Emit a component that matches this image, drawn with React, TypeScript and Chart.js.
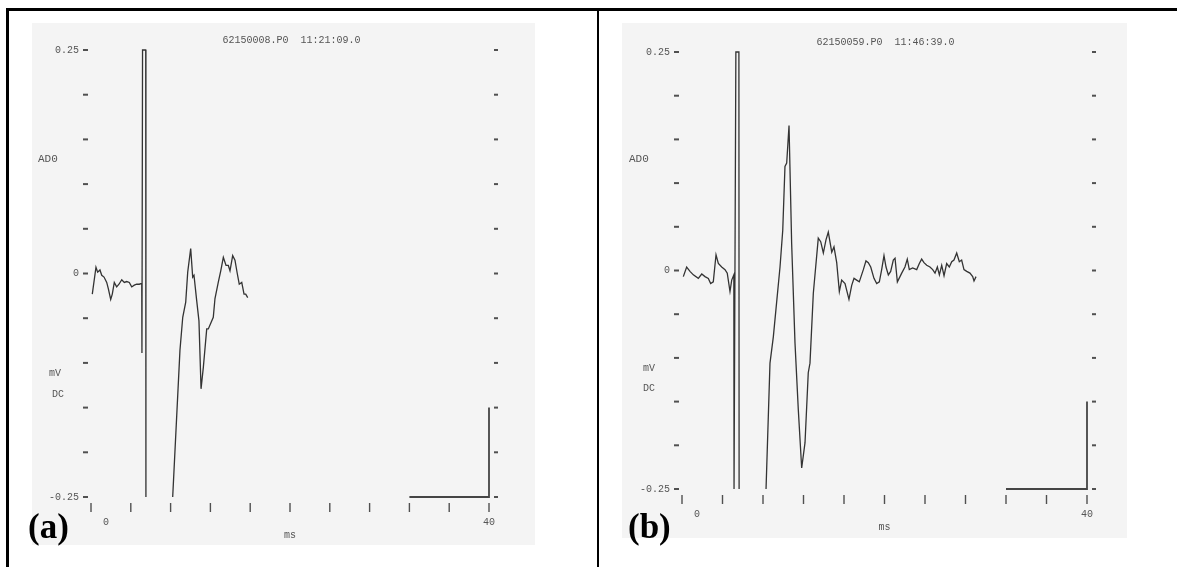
import React, { useEffect, useRef } from "react";
import { Chart, registerables } from "chart.js";

Chart.register(...registerables);

// ---------- axis data ----------
const xTickValues = [0, 4, 8, 12, 16, 20, 24, 28, 32, 36, 40];
const yTickValues = [-0.25, -0.2, -0.15, -0.1, -0.05, 0, 0.05, 0.1, 0.15, 0.2, 0.25];
const xLabelMap: Record<number, string> = { 0: "     0", 40: "40" };
const yLabelMap: Record<string, string> = { "0.25": "0.25", "0": "0", "-0.25": "-0.25" };

const headerA = "62150008.P0  11:21:09.0";
const headerB = "62150059.P0  11:46:39.0";

// ---------- panel (a) trace ----------
const traceA_ms = [
  0.13, 0.5, 0.67, 0.9, 1.08, 1.31, 1.58, 1.74, 1.98, 2.14, 2.34, 2.58, 2.81, 3.09, 3.35, 3.59, 3.85, 4.09,
  4.35, 4.59, 4.85, 5.1,
  5.12, 5.18, 5.5, 5.52,
  6.8,
  8.21, 8.94, 9.22, 9.52, 9.72, 10.02, 10.22, 10.35, 10.62, 10.85, 11.06, 11.29, 11.63, 11.79, 12.29, 12.46,
  12.79, 13.04, 13.3, 13.57, 13.8, 13.97, 14.24, 14.47, 14.7, 14.9, 15.15, 15.38, 15.55, 15.75,
];
const traceA_mV: (number | null)[] = [
  -0.023, 0.007, 0.0015, 0.004, -0.002, -0.004, -0.01, -0.017, -0.029, -0.023, -0.01, -0.015, -0.012, -0.007,
  -0.01, -0.009, -0.01, -0.015, -0.013, -0.012, -0.012, -0.011,
  -0.089, 0.25, 0.25, -0.25,
  null,
  -0.25, -0.086, -0.049, -0.032, 0.0015, 0.028, -0.004, -0.002, -0.03, -0.053, -0.129, -0.105, -0.062, -0.062,
  -0.049, -0.028, -0.01, 0.003, 0.018, 0.009, 0.009, 0.003, 0.02, 0.015, 0.0, -0.012, -0.01, -0.023, -0.023,
  -0.027,
];

// ---------- panel (b) trace ----------
const traceB_ms = [
  0.13, 0.46, 0.79, 1.12, 1.61, 1.95, 2.27, 2.6, 2.83, 3.09, 3.36, 3.59, 3.92, 4.25, 4.47, 4.74, 4.91, 5.12,
  5.14, 5.32, 5.62, 5.64,
  7.0,
  8.3, 8.69, 9.02, 9.68, 9.95, 10.17, 10.34, 10.57, 10.83, 11.16, 11.49, 11.82, 12.15, 12.47, 12.64, 12.97,
  13.46, 13.7, 13.96, 14.22, 14.45, 14.79, 15.01, 15.28,
  15.54, 15.77, 16.1, 16.49, 16.76, 16.99, 17.25, 17.51, 17.91, 18.17, 18.4, 18.64, 18.96, 19.23, 19.49,
  19.72, 19.95, 20.15, 20.38, 20.61, 20.87, 21.04, 21.27, 21.53, 21.7, 22.02, 22.25, 22.45, 22.78, 23.18,
  23.44, 23.67, 23.9, 24.17, 24.49, 24.76, 24.99, 25.22, 25.42, 25.65, 25.88, 26.14, 26.4, 26.64, 26.86,
  27.13, 27.39, 27.62, 27.85, 28.12, 28.44, 28.71, 28.84, 29.04,
];
const traceB_mV: (number | null)[] = [
  -0.007, 0.004, -0.001, -0.005, -0.009, -0.004, -0.007, -0.009, -0.015, -0.013, 0.018, 0.008, 0.004, 0.001,
  -0.003, -0.024, -0.011, -0.005,
  -0.25, 0.25, 0.25, -0.25,
  null,
  -0.25, -0.106, -0.076, 0.004, 0.046, 0.119, 0.123, 0.166, 0.031, -0.083, -0.16, -0.226, -0.197, -0.117,
  -0.106, -0.026, 0.037, 0.033, 0.02, 0.035, 0.044, 0.021, 0.027, 0.009,
  -0.024, -0.011, -0.015, -0.033, -0.017, -0.009, -0.011, -0.013, 0.001, 0.011, 0.009, 0.004, -0.009, -0.015,
  -0.013, 0.001, 0.017, 0.004, -0.005, -0.001, 0.012, 0.014, -0.013, -0.007, -0.003, 0.004, 0.013, 0.001,
  0.003, 0.001, 0.008, 0.013, 0.009, 0.006, 0.004, 0.001, -0.003, 0.004, -0.005, 0.006, -0.006, 0.008, 0.004,
  0.01, 0.012, 0.02, 0.01, 0.012, 0.001, -0.001, -0.003, -0.007, -0.012, -0.007,
];

// ---------- calibration bar (8 ms x 0.1 mV) ----------
const scaleBar_ms = [32, 40, 40];
const scaleBar_mV = [-0.25, -0.25, -0.15];

// ---------- side labels ----------
const sideLabelText = ["AD0", "mV", "DC"];
const sideLabelValue = [0.128, -0.112, -0.135];

const MONO = "'Liberation Mono', 'DejaVu Sans Mono', monospace";
const TEXT_COLOR = "#555";
const TRACE_COLOR = "#333";

const toPoints = (xs: number[], ys: (number | null)[]) => xs.map((x, i) => ({ x, y: ys[i] }));

const scopeTicks = {
  id: "scopeTicks",
  afterDraw(chart: any, _args: any, opts: any) {
    const { ctx, chartArea: a, scales } = chart;
    ctx.save();
    ctx.strokeStyle = "#505050";
    ctx.lineWidth = 2;
    for (const t of scales.y.ticks) {
      const py = scales.y.getPixelForValue(t.value);
      ctx.beginPath();
      ctx.moveTo(a.left - opts.leftOut, py);
      ctx.lineTo(a.left - opts.leftIn, py);
      ctx.stroke();
    }
    for (const t of scales.y2.ticks) {
      const py = scales.y2.getPixelForValue(t.value);
      ctx.beginPath();
      ctx.moveTo(a.right + opts.rightIn, py);
      ctx.lineTo(a.right + opts.rightOut, py);
      ctx.stroke();
    }
    ctx.lineWidth = 1.4;
    for (const t of scales.x.ticks) {
      const px = scales.x.getPixelForValue(t.value);
      ctx.beginPath();
      ctx.moveTo(px, a.bottom + opts.bottomIn);
      ctx.lineTo(px, a.bottom + opts.bottomOut);
      ctx.stroke();
    }
    ctx.restore();
  },
};

const sideLabels = {
  id: "sideLabels",
  afterDraw(chart: any, _args: any, opts: any) {
    const { ctx, chartArea: a, scales } = chart;
    ctx.save();
    ctx.fillStyle = TEXT_COLOR;
    ctx.textAlign = "left";
    ctx.textBaseline = "middle";
    sideLabelText.forEach((txt, i) => {
      ctx.font = `${i === 0 ? 11 : 10}px ${MONO}`;
      ctx.fillText(txt, a.left + opts.dx[i], scales.y.getPixelForValue(sideLabelValue[i]));
    });
    ctx.restore();
  },
};

type PanelSpec = {
  header: string;
  trace: { x: number; y: number | null }[];
  padTop: number;
  padRight: number;
  yWidth: number;
  y2Width: number;
  xHeight: number;
  msPad: number;
  dx: number[];
};

function makeConfig(p: PanelSpec): any {
  const font = { family: MONO, size: 10, weight: "normal" as const };
  const yTicks = (s: any) => {
    s.ticks = yTickValues.map((v) => ({ value: v }));
  };
  return {
    type: "line",
    data: {
      datasets: [
        {
          data: p.trace,
          borderColor: TRACE_COLOR,
          borderWidth: 1.3,
          pointRadius: 0,
          tension: 0,
          spanGaps: false,
          clip: 3,
        },
        {
          data: toPoints(scaleBar_ms, scaleBar_mV),
          borderColor: "#454545",
          borderWidth: 1.8,
          pointRadius: 0,
          tension: 0,
          clip: 4,
        },
      ],
    },
    options: {
      animation: false,
      responsive: false,
      maintainAspectRatio: false,
      events: [],
      layout: { padding: { left: 0, right: p.padRight, top: p.padTop, bottom: 0 } },
      plugins: {
        legend: { display: false },
        tooltip: { enabled: false },
        title: {
          display: true,
          text: p.header,
          font,
          color: TEXT_COLOR,
          padding: { top: 0, bottom: 4 },
        },
        scopeTicks: { leftOut: 8, leftIn: 3, rightIn: 5, rightOut: 9, bottomIn: 6, bottomOut: 15 },
        sideLabels: { dx: p.dx },
      },
      scales: {
        x: {
          type: "linear",
          min: 0,
          max: 40,
          afterFit: (s: any) => {
            s.height = p.xHeight;
          },
          afterBuildTicks: (s: any) => {
            s.ticks = xTickValues.map((v) => ({ value: v }));
          },
          grid: { display: false, drawTicks: false },
          border: { display: false },
          ticks: {
            autoSkip: false,
            maxRotation: 0,
            padding: 19,
            font,
            color: TEXT_COLOR,
            callback: (v: number) => xLabelMap[Math.round(v * 1000) / 1000] ?? "",
          },
          title: { display: true, text: "ms", font, color: TEXT_COLOR, padding: { top: 0, bottom: p.msPad } },
        },
        y: {
          type: "linear",
          position: "left",
          min: -0.25,
          max: 0.25,
          afterFit: (s: any) => {
            s.width = p.yWidth;
          },
          afterBuildTicks: yTicks,
          grid: { display: false, drawTicks: false },
          border: { display: false },
          ticks: {
            padding: 12,
            font,
            color: TEXT_COLOR,
            callback: (v: number) => yLabelMap[String(Math.round(v * 100) / 100)] ?? "",
          },
        },
        y2: {
          type: "linear",
          position: "right",
          min: -0.25,
          max: 0.25,
          afterFit: (s: any) => {
            s.width = p.y2Width;
          },
          afterBuildTicks: yTicks,
          grid: { display: false, drawTicks: false },
          border: { display: false },
          ticks: { display: false },
        },
      },
    },
    plugins: [scopeTicks, sideLabels],
  };
}

function ScopePanel(props: { spec: PanelSpec; left: number; width: number }) {
  const ref = useRef<HTMLCanvasElement>(null);
  useEffect(() => {
    if (!ref.current) return;
    const chart = new Chart(ref.current, makeConfig(props.spec));
    return () => chart.destroy();
  }, []);
  return (
    <canvas
      ref={ref}
      width={props.width}
      height={567}
      style={{ position: "absolute", left: props.left, top: 0, width: props.width, height: 567 }}
    />
  );
}

const specA: PanelSpec = {
  header: headerA,
  trace: toPoints(traceA_ms, traceA_mV),
  padTop: 34,
  padRight: 15,
  yWidth: 91,
  y2Width: 94,
  xHeight: 70,
  msPad: 26,
  dx: [-53, -42, -39],
};

const specB: PanelSpec = {
  header: headerB,
  trace: toPoints(traceB_ms, traceB_mV),
  padTop: 36,
  padRight: 4,
  yWidth: 84,
  y2Width: 86,
  xHeight: 78,
  msPad: 34,
  dx: [-53, -39, -39],
};

export default function App() {
  useEffect(() => {
    document.body.style.margin = "0";
    document.body.style.background = "#fff";
  }, []);
  const labelStyle: React.CSSProperties = {
    position: "absolute",
    fontFamily: "'Liberation Serif', 'Times New Roman', serif",
    fontWeight: "bold",
    fontSize: 35,
    lineHeight: "35px",
    color: "#000",
    whiteSpace: "nowrap",
  };
  return (
    <div style={{ position: "relative", width: 1177, height: 567, overflow: "hidden", background: "#fff" }}>
      {/* scanned paper areas */}
      <div style={{ position: "absolute", left: 32, top: 23, width: 503, height: 522, background: "#f4f4f4" }} />
      <div style={{ position: "absolute", left: 622, top: 23, width: 505, height: 515, background: "#f4f4f4" }} />
      <ScopePanel spec={specA} left={0} width={598} />
      <ScopePanel spec={specB} left={598} width={579} />
      {/* table borders */}
      <div style={{ position: "absolute", left: 6, top: 8, width: 1171, height: 3, background: "#000" }} />
      <div style={{ position: "absolute", left: 6, top: 8, width: 3, height: 559, background: "#000" }} />
      <div style={{ position: "absolute", left: 597, top: 8, width: 2, height: 559, background: "#000" }} />
      <div style={{ ...labelStyle, left: 28, top: 509 }}>(a)</div>
      <div style={{ ...labelStyle, left: 628, top: 509 }}>(b)</div>
    </div>
  );
}
